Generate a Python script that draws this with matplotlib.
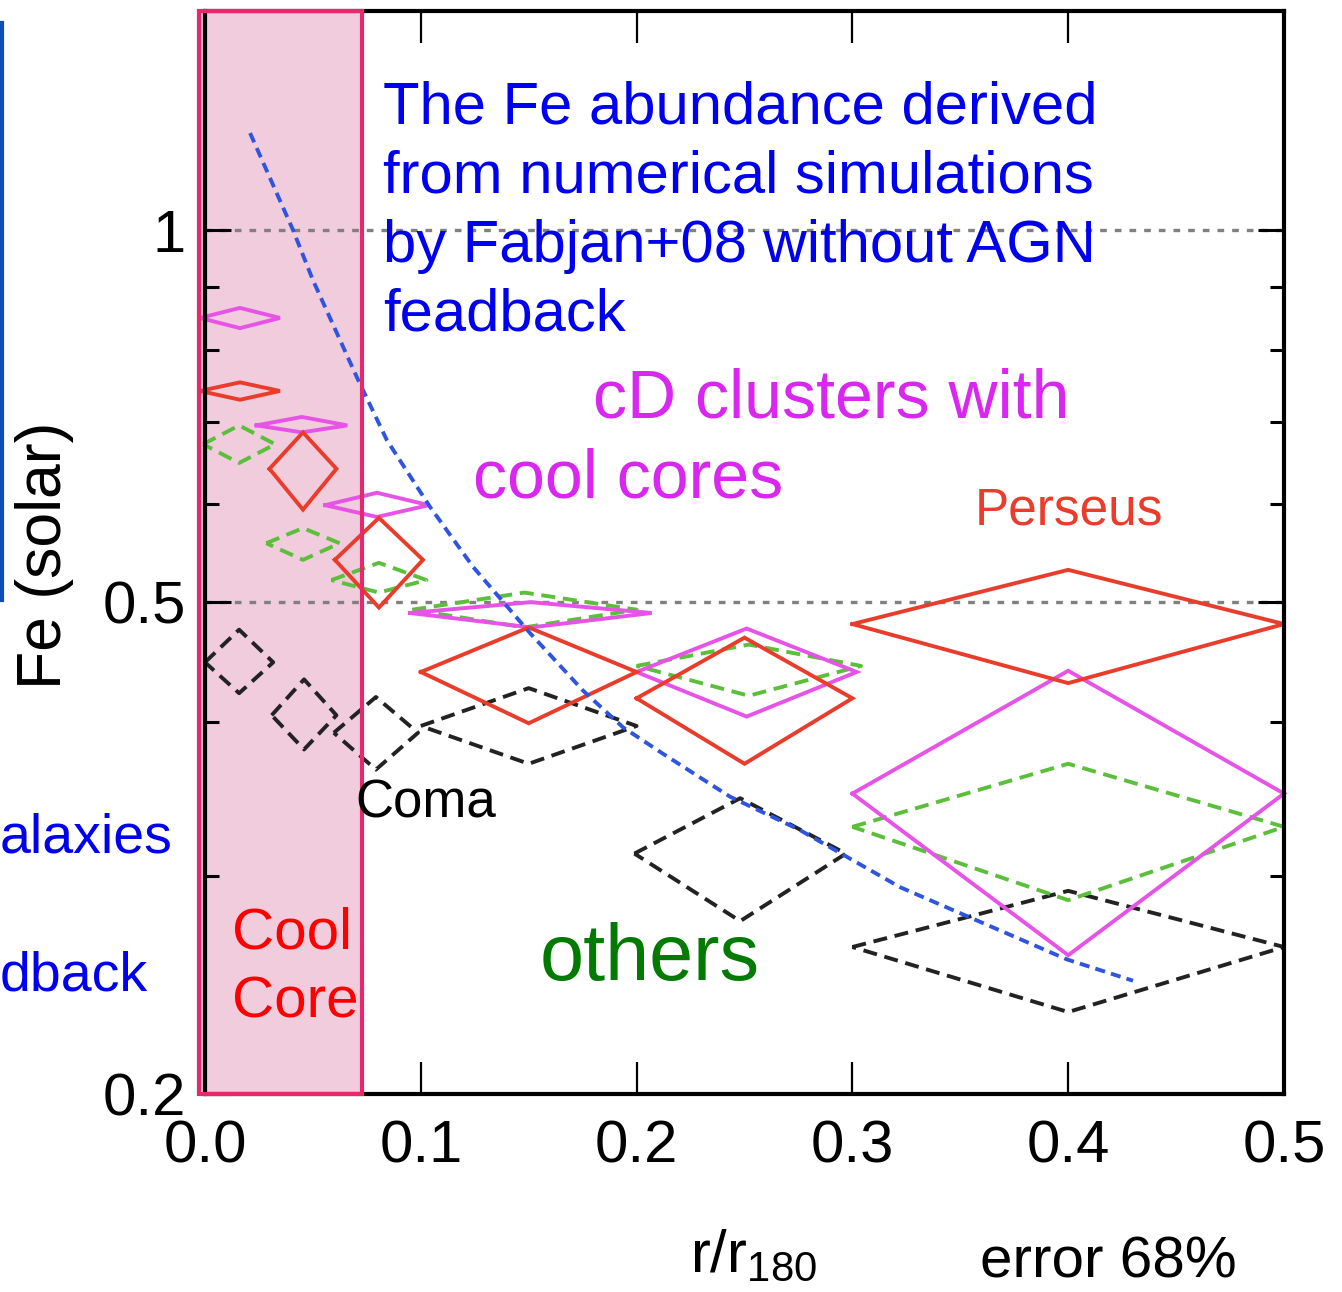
import matplotlib
matplotlib.use("Agg")
import matplotlib.pyplot as plt
from matplotlib.ticker import FixedLocator, FixedFormatter, NullFormatter

# Fe abundance profiles, one diamond per radial bin:
# centre (x, y), half-width in r/r180, lower and upper Fe bounds (68% errors)
perseus_x = [0.0162, 0.0454, 0.0806, 0.150, 0.250, 0.400]
perseus_dx = [0.0185, 0.0155, 0.0204, 0.050, 0.050, 0.100]
perseus_y = [0.741, 0.641, 0.541, 0.439, 0.418, 0.480]
perseus_lo = [0.729, 0.594, 0.495, 0.399, 0.370, 0.430]
perseus_hi = [0.753, 0.686, 0.585, 0.477, 0.468, 0.531]

cd_x = [0.0162, 0.0449, 0.0797, 0.151, 0.251, 0.400]
cd_dx = [0.0185, 0.021, 0.024, 0.056, 0.051, 0.100]
cd_y = [0.849, 0.695, 0.599, 0.490, 0.439, 0.350]
cd_lo = [0.833, 0.686, 0.586, 0.477, 0.404, 0.259]
cd_hi = [0.865, 0.706, 0.613, 0.500, 0.476, 0.440]

others_x = [0.0158, 0.0454, 0.0806, 0.148, 0.252, 0.400]
others_dx = [0.0167, 0.017, 0.022, 0.052, 0.052, 0.100]
others_y = [0.671, 0.558, 0.521, 0.493, 0.444, 0.329]
others_lo = [0.648, 0.541, 0.509, 0.477, 0.420, 0.287]
others_hi = [0.695, 0.574, 0.538, 0.509, 0.462, 0.370]

coma_x = [0.0158, 0.0459, 0.0792, 0.150, 0.248, 0.400]
coma_dx = [0.0158, 0.015, 0.0195, 0.050, 0.049, 0.100]
coma_y = [0.447, 0.405, 0.392, 0.397, 0.313, 0.263]
coma_lo = [0.422, 0.380, 0.366, 0.370, 0.276, 0.233]
coma_hi = [0.475, 0.433, 0.419, 0.426, 0.347, 0.292]

# simulated Fe profile (Fabjan+08, no AGN feedback)
sim_r = [0.0209, 0.0408, 0.0500, 0.0704, 0.0843, 0.1043, 0.1242, 0.1506,
         0.1752, 0.1937, 0.2122, 0.2433, 0.2757, 0.3221, 0.3605, 0.3994, 0.4300]
sim_fe = [1.198, 1.000, 0.911, 0.760, 0.676, 0.597, 0.534, 0.472,
          0.424, 0.396, 0.377, 0.348, 0.327, 0.294, 0.275, 0.257, 0.247]

x_ticks = [0.0, 0.1, 0.2, 0.3, 0.4, 0.5]
x_labels = ["0.0", "0.1", "0.2", "0.3", "0.4", "0.5"]
y_ticks = [0.2, 0.5, 1.0]
y_labels = ["0.2", "0.5", "1"]
y_minor = [0.3, 0.4, 0.6, 0.7, 0.8, 0.9]
cool_core_edge = 0.0728

arial = "Liberation Sans"
plt.rcParams["font.family"] = arial
plt.rcParams["mathtext.fontset"] = "custom"
plt.rcParams["mathtext.rm"] = arial

fig = plt.figure(figsize=(13.42, 12.92), dpi=100)
ax = fig.add_axes([0.15276, 0.15325, 0.80402, 0.83824])
ax.set_yscale("log")


def diamonds(x, dx, y, lo, hi, color, dashed):
    for xi, dxi, yi, l, h in zip(x, dx, y, lo, hi):
        xs = [xi - dxi, xi, xi + dxi, xi, xi - dxi]
        ys = [yi, h, yi, l, yi]
        line, = ax.plot(xs, ys, color=color, lw=2.8, clip_on=False, zorder=2,
                        solid_joinstyle="miter")
        if dashed:
            line.set_dashes((3.6, 2.0))


# reference levels
ax.axhline(1.0, color="#808080", lw=2.4, dashes=(2.0, 2.4), zorder=1.5)
ax.axhline(0.5, color="#808080", lw=2.4, dashes=(2.0, 2.4), zorder=1.5)

diamonds(coma_x, coma_dx, coma_y, coma_lo, coma_hi, "#222222", True)
diamonds(others_x, others_dx, others_y, others_lo, others_hi, "#5cbf3c", True)
diamonds(cd_x, cd_dx, cd_y, cd_lo, cd_hi, "#e653e6", False)
diamonds(perseus_x, perseus_dx, perseus_y, perseus_lo, perseus_hi, "#ea3c2a", False)

sim, = ax.plot(sim_r, sim_fe, color="#2f55e0", lw=2.8, zorder=3)
sim.set_dashes((2.6, 1.6))

# cool core region
ax.axvspan(-0.0028, cool_core_edge, color="#f0ccdc", lw=0, zorder=0.5, clip_on=False)
ax.axvspan(-0.0028, cool_core_edge, fill=False, edgecolor="#e8286c", lw=3,
           zorder=4, clip_on=False)

ax.set_xlim(0, 0.5)
ax.set_ylim(0.2, 1.504)

ax.xaxis.set_major_locator(FixedLocator(x_ticks))
ax.xaxis.set_major_formatter(FixedFormatter(x_labels))
ax.yaxis.set_major_locator(FixedLocator(y_ticks))
ax.yaxis.set_major_formatter(FixedFormatter(y_labels))
ax.yaxis.set_minor_locator(FixedLocator(y_minor))
ax.yaxis.set_minor_formatter(NullFormatter())

ax.tick_params(axis="x", which="major", direction="in", top=True, length=23,
               width=1.6, pad=18, labelsize=43)
ax.tick_params(axis="y", which="major", direction="in", right=True, length=19,
               width=2.2, pad=14, labelsize=43)
ax.tick_params(axis="y", which="minor", direction="in", right=True, length=10,
               width=2.2)
for s in ax.spines.values():
    s.set_linewidth(3)

# annotations
blue_lines = ["The Fe abundance derived", "from numerical simulations",
              "by Fabjan+08 without AGN", "feadback"]
for i, txt in enumerate(blue_lines):
    ax.text(0.165, 0.8957 - i * 0.0637, txt, transform=ax.transAxes, color="#0000f0",
            fontsize=43, va="baseline")

ax.text(0.3596, 0.6242, "cD clusters with", transform=ax.transAxes, color="#d926f0",
        fontsize=49, va="baseline")
ax.text(0.2484, 0.5512, "cool cores", transform=ax.transAxes, color="#d926f0",
        fontsize=49, va="baseline")
ax.text(0.7136, 0.5254, "Perseus", transform=ax.transAxes, color="#ea3c2a",
        fontsize=37, va="baseline")
ax.text(0.139, 0.2549, "Coma", transform=ax.transAxes, color="black",
        fontsize=38, va="baseline", zorder=5)
ax.text(0.3105, 0.1053, "others", transform=ax.transAxes, color="#007a00",
        fontsize=57, va="baseline")
ax.text(0.025, 0.1348, "Cool", transform=ax.transAxes, color="#ff0000",
        fontsize=42, va="baseline", zorder=5)
ax.text(0.025, 0.0702, "Core", transform=ax.transAxes, color="#ff0000",
        fontsize=42, va="baseline", zorder=5)

fig.text(0.0335, 0.570, "Fe (solar)", rotation=90, ha="center", va="center",
         fontsize=45)
fig.text(0.514, 0.0152, r"r/r$_{\mathregular{180}}$", fontsize=43, va="baseline")
fig.text(0.7303, 0.0115, "error 68%", fontsize=42, va="baseline")

# neighbouring panel text at the left edge
fig.text(0.0, 0.3398, "alaxies", ha="left", va="baseline", color="#0000f0",
         fontsize=40)
fig.text(0.0, 0.2337, "dback", ha="left", va="baseline", color="#0000f0",
         fontsize=40)
fig.add_artist(plt.Line2D([0.0015, 0.0015], [1 - 23 / 1292, 1 - 600 / 1292],
                          color="#0a4db5", lw=3, transform=fig.transFigure))

fig.savefig("out.png", dpi=100)
